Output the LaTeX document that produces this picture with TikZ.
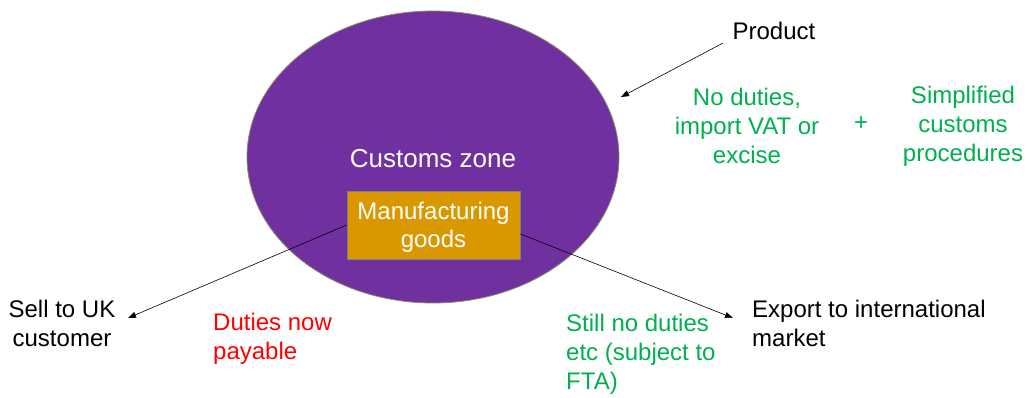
\documentclass[tikz,border=0pt]{standalone}
\usepackage{fontspec}
\setmainfont{Liberation Sans}
\usetikzlibrary{arrows.meta}
\definecolor{zonepurple}{HTML}{7030A0}
\definecolor{zoneedge}{HTML}{8C8C64}
\definecolor{boxorange}{HTML}{D99700}
\definecolor{okgreen}{HTML}{00B050}
\definecolor{warnred}{HTML}{FF0000}
\tikzset{
  lbl/.style={inner sep=0pt, font=\fontsize{24}{29}\selectfont},
  ctext/.style={lbl, align=center},
  ltext/.style={lbl, align=left, anchor=west},
  flow/.style={draw=black, line width=0.6pt, -{Triangle[length=8pt,width=6pt]}},
}
\begin{document}
\begin{tikzpicture}[x=1pt,y=-1pt]
\useasboundingbox (0,0) rectangle (1030,397);

% the customs zone
\draw[fill=zonepurple, draw=zoneedge, line width=0.8pt] (433,157) ellipse [x radius=186, y radius=146];
\node[lbl, text=white, font=\fontsize{26}{30}\selectfont] (zone) at (433,159) {Customs zone};
\node[draw=gray, line width=0.8pt, fill=boxorange, minimum width=173pt, minimum height=68pt,
      inner sep=0pt] (mfg) at (433.5,225) {};
\node[ctext, text=white, font=\fontsize{24}{28}\selectfont] (mfgtext) at (433.5,227) {Manufacturing\\goods};

% labels around the zone
\node[ctext] (product) at (774,31) {Product};
\node[ctext, text=okgreen] (relief) at (747,126) {No duties,\\import VAT or\\excise};
\node[ctext, text=okgreen] (plus) at (861,124) {+};
\node[ctext, text=okgreen] (simple) at (963,126) {Simplified\\customs\\procedures};

\node[ctext] (sell) at (62,323) {Sell to UK\\customer};
\node[ltext, text=warnred] (duties) at (213,339) {Duties now\\payable};
\node[ltext, text=okgreen] (still) at (566,354) {Still no duties\\etc (subject to\\FTA)};
\node[ltext] (export) at (752,323) {Export to international\\market};

% arrow end points
\coordinate (productfrom) at (723,43);
\coordinate (zoneedgept) at (621,97);
\coordinate (selltip) at (128,318);
\coordinate (exporttip) at (733,318);

\draw[flow] (productfrom) -- (zoneedgept);
\draw[flow] (mfg.west) -- (selltip);
\draw[flow] (mfg.east) ++(0,9) -- (exporttip);
\end{tikzpicture}
\end{document}
